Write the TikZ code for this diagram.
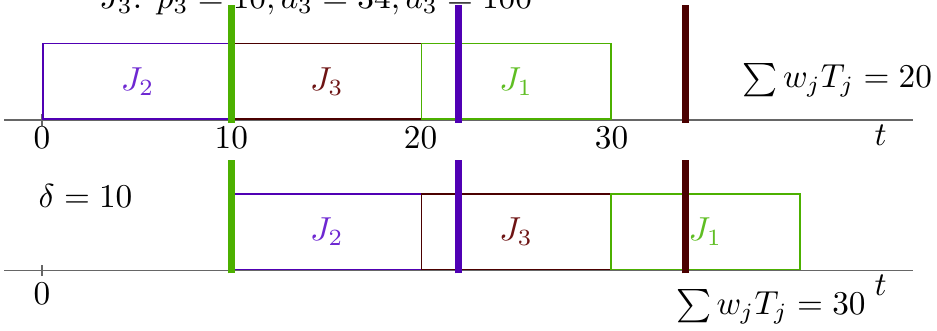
\documentclass[tikz,border=0pt]{standalone}
\usepackage{amsmath, amssymb}
\usepackage{tikz}
\usetikzlibrary{positioning}
\usepackage{xcolor}
\definecolor{jone}{RGB}{76,176,0}
\definecolor{jtwo}{RGB}{80,0,180}
\definecolor{jthree}{RGB}{75,0,0}
\definecolor{jonetxt}{RGB}{95,190,35}
\definecolor{jtwotxt}{RGB}{110,40,210}
\definecolor{jthreetxt}{RGB}{110,20,20}

\begin{document}
\begin{tikzpicture}[
    x=0.2cm, y=1cm,
    job/.style={draw=#1, fill=white, line width=0.5pt, anchor=south west,
                minimum width=2cm, minimum height=0.8cm, inner sep=0pt,
                text=#1txt},
    job/.default=jtwo,
    deadline/.style={line width=2.2pt, #1},
    axis/.style={gray!80!black, line width=0.5pt},
    tick/.style={inner sep=2pt},
]
\useasboundingbox (-2.22,-2.22) rectangle (47.28,1.268);

% Instance (cut by the top edge)
\node[anchor=base west, inner sep=0pt] (inst) at (3.0,1.18)
    {$J_3$: $p_3 = 10, d_3 = 34, \bar{d}_3 = 100$};

% Schedule 1
\draw[axis] (-2,0) -- (46,0);
\draw[axis] (0,-0.06) -- (0,0.06);
\node[job=jtwo]   (a2) at (0,0)  {$J_2$};
\node[job=jthree] (a3) at (10,0) {$J_3$};
\node[job=jone]   (a1) at (20,0) {$J_1$};
\draw[deadline=jone]   (10,-0.03) -- (10,1.215);
\draw[deadline=jtwo]   (22,-0.03) -- (22,1.215);
\draw[deadline=jthree] (34,-0.03) -- (34,1.215);
\node[tick, below=0pt of a2.south west]    (l0)  {$0$};
\node[tick, below=0pt of a3.south west]    (l10) {$10$};
\node[tick, below=0pt of a1.south west]    (l20) {$20$};
\node[tick, below=0pt of a1.south east]    (l30) {$30$};
\node (ta) at (44.3,-0.16) {$t$};
\node[anchor=east, inner sep=0pt] (sa) at (47.05,0.42) {$\sum w_jT_j = 20$};

% Schedule 2 (delayed start)
\begin{scope}[yshift=-1.59cm]
\draw[axis] (-2,0) -- (46,0);
\draw[axis] (0,-0.06) -- (0,0.06);
\node[job=jtwo]   (b2) at (10,0) {$J_2$};
\node[job=jthree] (b3) at (20,0) {$J_3$};
\node[job=jone]   (b1) at (30,0) {$J_1$};
\draw[deadline=jone]   (10,-0.03) -- (10,1.17);
\draw[deadline=jtwo]   (22,-0.03) -- (22,1.17);
\draw[deadline=jthree] (34,-0.03) -- (34,1.17);
\node[tick] (m0) at (0,-0.25) {$0$};
\node (tb) at (44.3,-0.16) {$t$};
\node (sb) at (38.5,-0.38) {$\sum w_jT_j = 30$};
\node (dl) at (2.3,0.79) {$\delta = 10$};
\end{scope}
\end{tikzpicture}
\end{document}
